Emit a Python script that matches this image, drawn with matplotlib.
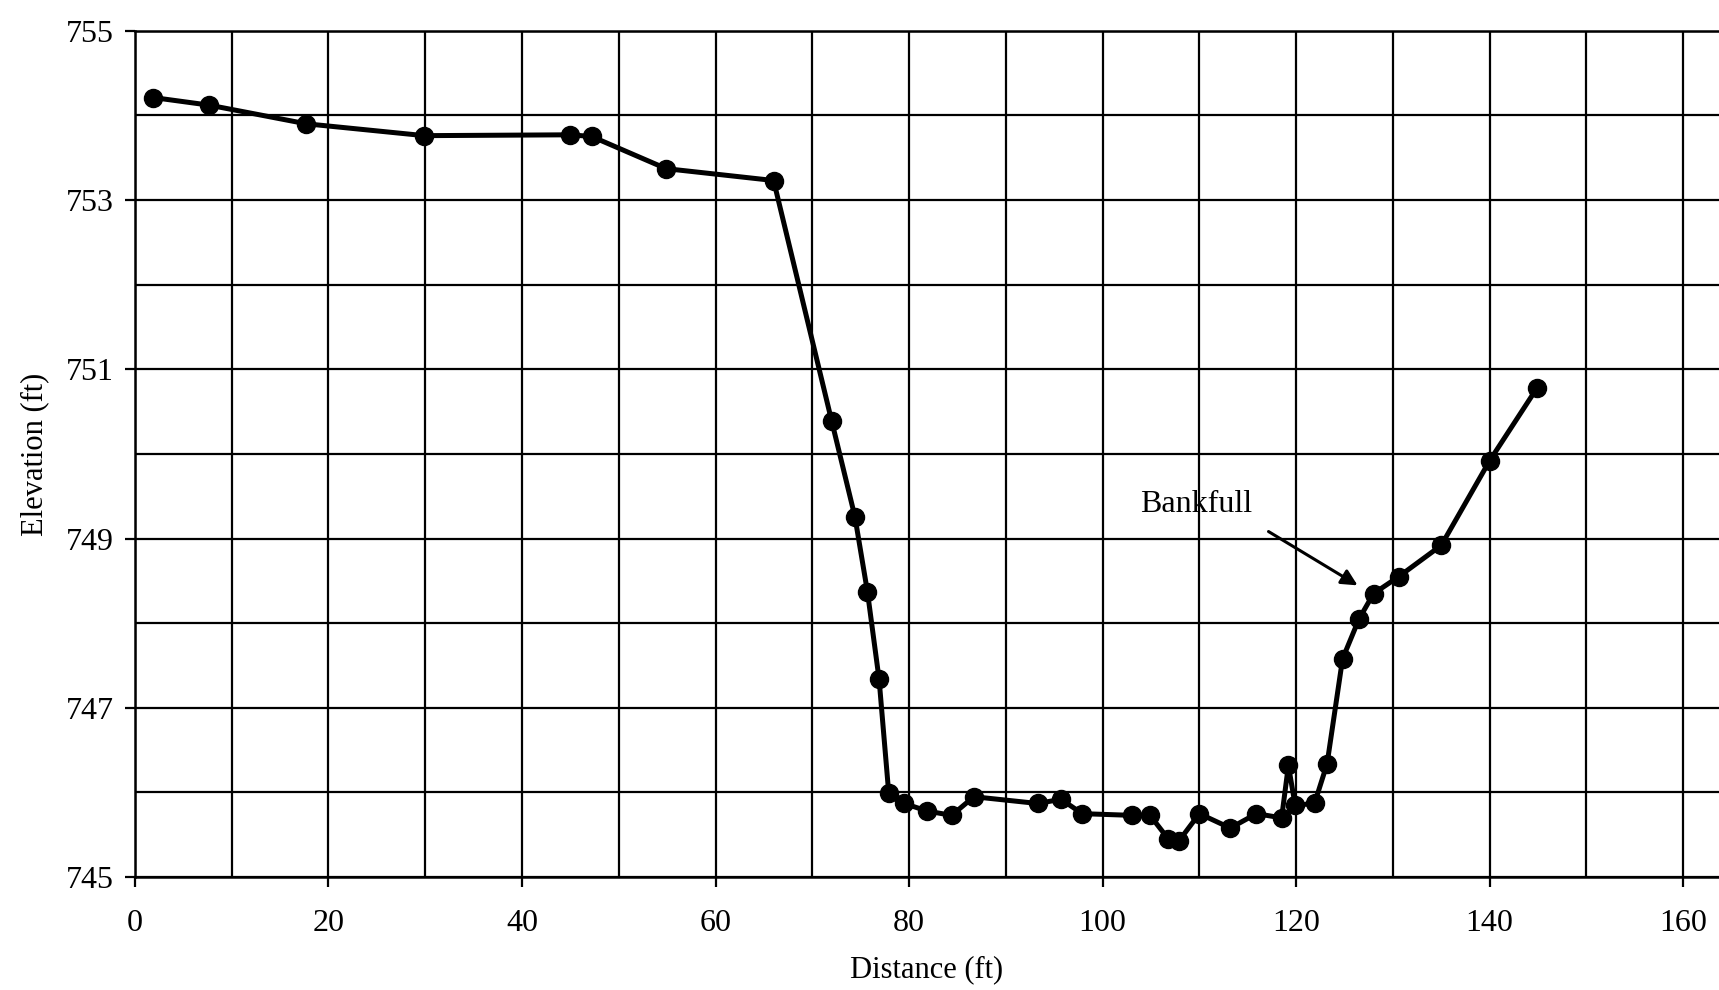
import matplotlib.pyplot as plt
import numpy as np

# survey points
distance = [1.9, 7.7, 17.7, 29.9, 45.0, 47.2, 54.9, 66.0, 72.0, 74.4, 75.7, 76.9,
            77.9, 79.5, 81.9, 84.4, 86.7, 93.3, 95.7, 97.9, 103.0, 104.9, 106.8,
            107.9, 110.0, 113.2, 115.9, 118.5, 119.2, 119.9, 121.9, 123.2, 124.8,
            126.5, 128.0, 130.6, 135.0, 140.0, 144.9]
elevation = [754.21, 754.12, 753.90, 753.76, 753.77, 753.75, 753.37, 753.23, 750.39,
             749.26, 748.37, 747.34, 745.99, 745.87, 745.78, 745.73, 745.95, 745.87,
             745.92, 745.75, 745.73, 745.73, 745.45, 745.43, 745.75, 745.58, 745.75,
             745.70, 746.32, 745.85, 745.87, 746.34, 747.58, 748.05, 748.35, 748.55,
             748.92, 749.92, 750.78]

x_ticks = [0, 20, 40, 60, 80, 100, 120, 140, 160]
y_ticks = [745, 747, 749, 751, 753, 755]

bankfull_label = 'Bankfull'
bankfull_text = (109.7, 749.4)
bankfull_from = (116.9, 749.1)
bankfull_to = (126.6, 748.43)

plt.rcParams['font.family'] = ['Liberation Serif', 'DejaVu Serif']

fig = plt.figure(figsize=(17.19, 9.90), dpi=100)
ax = fig.add_axes([0.0785, 0.114, 0.9215, 0.855])

ax.plot(distance, elevation, color='black', linewidth=3.6, marker='o',
        markersize=13, zorder=3)

ax.set_xlim(0, 163.7)
ax.set_ylim(745, 755)
ax.set_xticks(x_ticks)
ax.set_yticks(y_ticks)
ax.set_xticks(np.arange(0, 161, 10), minor=True)
ax.set_yticks(np.arange(745, 756, 1), minor=True)
ax.grid(which='both', color='black', linewidth=1.6)
ax.set_axisbelow(True)

ax.tick_params(axis='both', which='major', labelsize=23, length=7, width=1.6,
               color='black')
ax.tick_params(axis='x', which='major', pad=16)
ax.tick_params(axis='y', which='major', pad=8)
ax.tick_params(axis='both', which='minor', length=0)

for side in ['left', 'bottom', 'top']:
    ax.spines[side].set_linewidth(1.8)
ax.spines['right'].set_visible(False)

ax.set_xlabel('Distance (ft)', fontsize=22, labelpad=12)
ax.set_ylabel('Elevation (ft)', fontsize=22, labelpad=12)

ax.text(bankfull_text[0], bankfull_text[1], bankfull_label, fontsize=23,
        ha='center', va='center')
ax.annotate('', xy=bankfull_to, xytext=bankfull_from,
            arrowprops=dict(arrowstyle='-|>', color='black', lw=2.2,
                            mutation_scale=24))

fig.savefig('out.png', dpi=100)
